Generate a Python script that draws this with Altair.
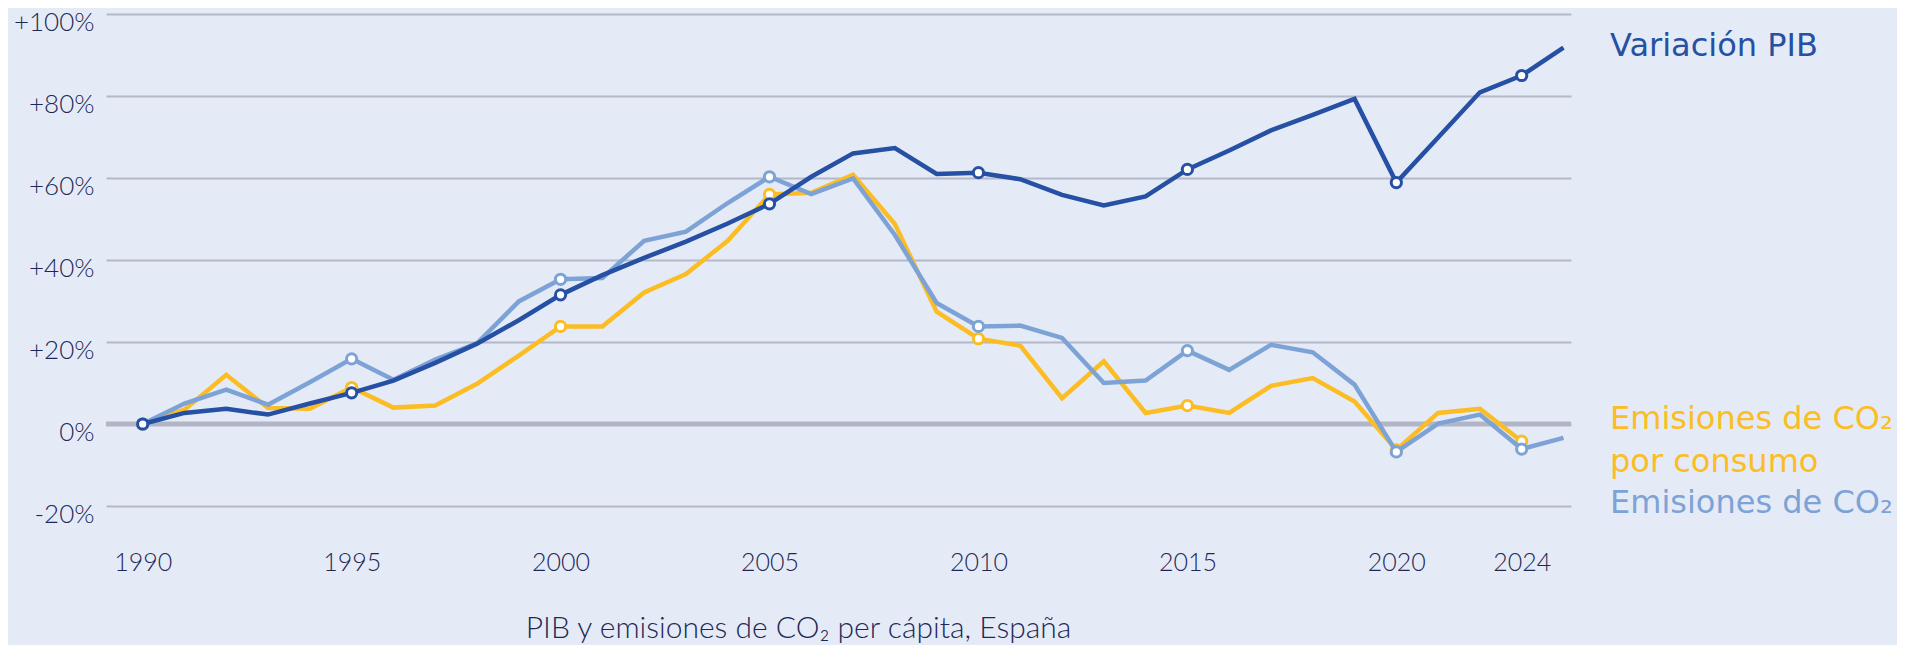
import altair as alt
import pandas as pd

# ---------------- data ----------------
years = list(range(1990, 2023)) + [2024, 2025]

pib = [0.0, 2.7, 3.7, 2.3, 5.0, 7.6, 10.6, 14.9, 19.6, 25.3,
       31.5, 36.3, 40.5, 44.5, 48.9, 53.7, 60.3, 66.0, 67.3, 61.0,
       61.3, 59.7, 55.9, 53.3, 55.5, 62.1, 66.7, 71.6, 75.4, 79.3,
       58.9, 69.9, 80.9, 85.0, 91.8]

co2_consumo = [0.0, 3.5, 12.0, 3.9, 3.7, 8.9, 4.0, 4.5, 9.8, 16.7,
               23.8, 23.8, 32.1, 36.6, 44.7, 56.0, 56.4, 60.8, 48.8, 27.4,
               20.8, 19.1, 6.3, 15.3, 2.7, 4.5, 2.7, 9.3, 11.2, 5.5,
               -6.3, 2.7, 3.7, -4.2, None]

co2 = [0.0, 5.0, 8.4, 4.7, 10.2, 15.9, 10.8, 15.7, 19.7, 29.9,
       35.3, 35.6, 44.7, 46.9, 53.9, 60.3, 56.1, 59.9, 46.1, 29.5,
       23.8, 24.0, 21.0, 10.0, 10.6, 17.9, 13.2, 19.3, 17.5, 9.6,
       -6.8, 0.1, 2.3, -6.1, -3.4]

tick_years = [1990, 1995, 2000, 2005, 2010, 2015, 2020, 2024]
y_ticks = [-20, 0, 20, 40, 60, 80, 100]
baseline = [0]

series_names = ["Emisiones de CO₂ por consumo", "Emisiones de CO₂", "Variación PIB"]
series_values = [co2_consumo, co2, pib]
series_colors = ["#FBBD23", "#7DA3D6", "#2650A3"]

label_pib = "Variación PIB"
label_consumo = "Emisiones de CO₂\npor consumo"
label_co2 = "Emisiones de CO₂"
title_text = "PIB y emisiones de CO₂ per cápita, España"

# ---------------- styling ----------------
BG = "#E5EBF6"
NAVY = "#1E2857"
GRID = "#B5B8C8"
FONT = "Lato"
LABEL_FONT = "DejaVu Sans"

rows = []
for name, vals in zip(series_names, series_values):
    for i, (yr, v) in enumerate(zip(years, vals)):
        if v is None:
            continue
        rows.append({"pos": i, "year": yr, "value": v, "series": name,
                     "marker": yr in tick_years})
df = pd.DataFrame(rows)

tick_pos = [years.index(y) for y in tick_years]
x_label_expr = "".join(f"datum.value == {p} ? '{y}' : " for p, y in zip(tick_pos, tick_years)) + "''"

X = alt.X(
    "pos:Q",
    scale=alt.Scale(domain=[-0.878, 34.18], nice=False, zero=False),
    axis=alt.Axis(values=tick_pos, labelExpr=x_label_expr, title=None, grid=False,
                  domain=False, ticks=False, labelFont=FONT, labelFontWeight=300,
                  labelFontSize=25, labelColor=NAVY, labelBaseline="alphabetic",
                  labelPadding=64, labelFlush=False, labelOverlap=False),
)
Y = alt.Y(
    "value:Q",
    scale=alt.Scale(domain=[-20, 100], nice=False, zero=False),
    axis=alt.Axis(values=y_ticks,
                  labelExpr="datum.value > 0 ? '+' + datum.value + '%' : datum.value + '%'",
                  title=None, grid=True, gridColor=GRID, gridWidth=2, domain=False,
                  ticks=False, labelFont=FONT, labelFontWeight=300, labelFontSize=26,
                  labelColor=NAVY, labelBaseline="alphabetic", labelOffset=16,
                  labelPadding=12, labelFlush=False, labelOverlap=False),
)

zero_rule = alt.Chart(pd.DataFrame({"value": baseline})).mark_rule(
    color="#B2B5C5", strokeWidth=5).encode(y=Y)

layers = [zero_rule]
base = alt.Chart(df)
for name, col in zip(series_names, series_colors):
    s = base.transform_filter(alt.datum.series == name)
    layers.append(s.mark_line(color=col, strokeWidth=4.5, strokeJoin="miter").encode(x=X, y=Y))
    layers.append(
        s.transform_filter(alt.datum.marker == True)
        .mark_point(shape="circle", filled=True, fill="white", stroke=col,
                    strokeWidth=3, size=105, opacity=1)
        .encode(x=X, y=Y)
    )

def label_layer(text, color, y_px):
    return alt.Chart(pd.DataFrame({"label": [text]})).mark_text(
        align="left", baseline="alphabetic", font=LABEL_FONT, fontSize=32,
        fontWeight=400, color=color, lineBreak="\n", lineHeight=42.5,
    ).encode(x=alt.value(1504), y=alt.value(y_px), text="label:N")

layers.append(label_layer(label_pib, "#2650A3", 42))
layers.append(label_layer(label_consumo, "#FBBD23", 415))
layers.append(label_layer(label_co2, "#7DA3D6", 499))

chart = alt.layer(*layers).properties(
    width=1465,
    height=492,
    padding={"left": 98, "top": 6, "right": 326, "bottom": 139},
    autosize=alt.AutoSizeParams(type="none"),
    background=BG,
    title=alt.TitleParams(title_text, orient="bottom", anchor="middle", dx=-40,
                          offset=39, font=FONT, fontSize=30, fontWeight=300,
                          color=NAVY),
).configure_view(stroke=None)

chart.save("out.html", embed_options={"renderer": "svg", "actions": False})
